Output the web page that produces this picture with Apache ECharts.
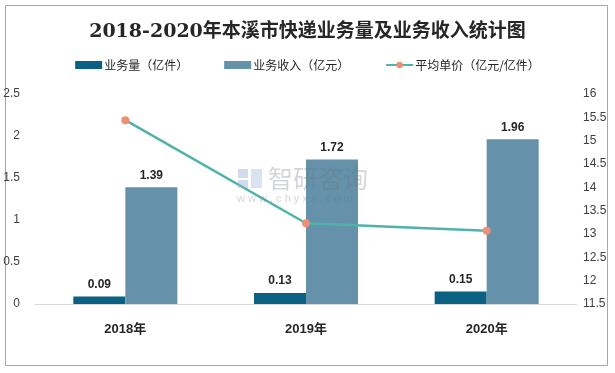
<!DOCTYPE html>
<html><head><meta charset="utf-8">
<script src="https://cdn.jsdelivr.net/npm/echarts@6/dist/echarts.min.js"></script>
<style>html,body{margin:0;padding:0;background:#fff}#c{width:615px;height:373px}</style>
</head><body><div id="c"></div>
<script>
const categories = ['2018年', '2019年', '2020年'];
const volume = [0.09, 0.13, 0.15];
const revenue = [1.39, 1.72, 1.96];
const unitPrice = [15.44, 13.23, 13.07];
const leftTicks = [0, 2.5, 0.5];
const rightTicks = [11.5, 16, 0.5];

const chart = echarts.init(document.getElementById('c'));
const lbl = {show: true, position: 'top', fontSize: 12, fontWeight: 'bold', color: '#262626', fontFamily: 'Liberation Sans, Arial, sans-serif', distance: 6};
const wm = 'rgba(110,115,125,0.30)';
chart.setOption({
  animation: false,
  backgroundColor: '#fff',
  title: {
    text: '2018-2020年本溪市快递业务量及业务收入统计图',
    left: 'center', top: 18,
    textStyle: {fontSize: 19, fontWeight: 'bold', color: '#262626', fontFamily: 'DejaVu Serif, "Noto Sans CJK SC", serif'}
  },
  legend: {
    top: 54, left: 'center', itemGap: 36, itemWidth: 27, itemHeight: 8,
    textStyle: {fontSize: 12, color: '#262626', fontFamily: '"Noto Sans CJK SC", sans-serif', padding: [0, 0, 0, -3]},
    data: [
      {name: '业务量（亿件）', icon: 'rect'},
      {name: '业务收入（亿元）', icon: 'rect'},
      {name: '平均单价（亿元/亿件）'}
    ]
  },
  graphic: [
    {type: 'rect', shape: {x: 5.5, y: 5.5, width: 602, height: 360}, style: {fill: 'none', stroke: '#a6a6a6', lineWidth: 1}, z: -1},
    {type: 'rect', z: 100, shape: {x: 238, y: 169, width: 10, height: 9}, style: {fill: 'rgba(150,175,215,0.45)'}},
    {type: 'rect', z: 100, shape: {x: 238, y: 180, width: 10, height: 8}, style: {fill: 'rgba(150,175,215,0.45)'}},
    {type: 'rect', z: 100, shape: {x: 251, y: 169, width: 11, height: 19}, style: {fill: 'rgba(150,175,215,0.35)'}},
    {type: 'text', z: 100, x: 268, y: 166, style: {text: '智研咨询', fontSize: 25, fill: wm, fontFamily: '"Noto Sans CJK SC", sans-serif'}},
    {type: 'text', z: 100, x: 237, y: 193, style: {text: 'w w w . c h y x x . c o m', fontSize: 11, fill: wm, fontFamily: 'Liberation Sans, sans-serif'}}
  ],
  grid: {left: 35, right: 38, top: 94, bottom: 69, containLabel: false},
  xAxis: {
    type: 'category', data: categories,
    axisLine: {lineStyle: {color: '#d9d9d9'}},
    axisTick: {show: false},
    axisLabel: {margin: 19, fontSize: 13, fontWeight: 'bold', color: '#262626', fontFamily: 'Liberation Sans, "Noto Sans CJK SC", sans-serif'}
  },
  yAxis: [
    {type: 'value', min: leftTicks[0], max: leftTicks[1], interval: leftTicks[2],
     splitLine: {show: false}, axisLine: {show: false}, axisTick: {show: false},
     axisLabel: {margin: 15, fontSize: 12, color: '#404040', fontFamily: 'Liberation Sans, Arial, sans-serif'}},
    {type: 'value', min: rightTicks[0], max: rightTicks[1], interval: rightTicks[2],
     splitLine: {show: false}, axisLine: {show: false}, axisTick: {show: false},
     axisLabel: {margin: 6, fontSize: 12, color: '#404040', fontFamily: 'Liberation Sans, Arial, sans-serif'}}
  ],
  series: [
    {name: '业务量（亿件）', type: 'bar', data: volume, barWidth: 52, barGap: '0%',
     itemStyle: {color: '#0b6183'}, label: lbl},
    {name: '业务收入（亿元）', type: 'bar', data: revenue, barWidth: 52,
     itemStyle: {color: '#6592aa'}, label: lbl},
    {name: '平均单价（亿元/亿件）', type: 'line', yAxisIndex: 1, data: unitPrice,
     symbol: 'circle', symbolSize: 8,
     lineStyle: {color: '#4fb3aa', width: 2.5},
     itemStyle: {color: '#ef8f74'}}
  ]
});
</script></body></html>
